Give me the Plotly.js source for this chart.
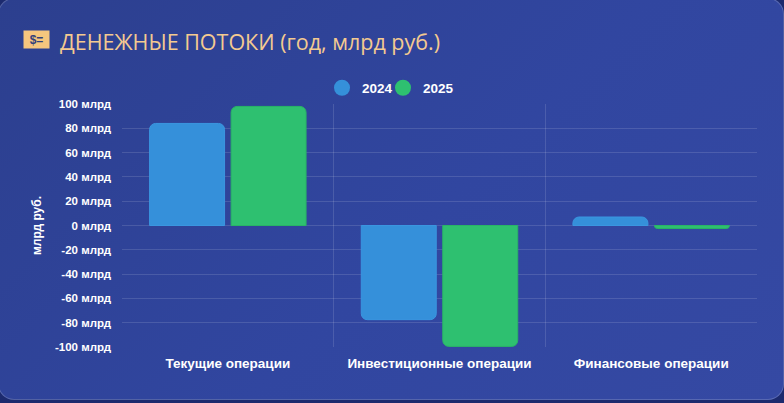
<!DOCTYPE html>
<html>
<head>
<meta charset="utf-8">
<script src="https://cdn.plot.ly/plotly-3.0.1.min.js"></script>
<style>
  html, body { margin: 0; padding: 0; background: #1c2a6e; overflow: hidden; }
  #card {
    position: absolute; left: -2px; top: -2px; width: 784px; height: 400px;
    border-radius: 16px; border: 1px solid rgba(255,255,255,0.18);
    background: linear-gradient(135deg, #2c3f8e 0%, #3146a0 55%, #3549a3 100%);
  }
  #chart { position: absolute; left: 0; top: 0; width: 784px; height: 403px; }
</style>
</head>
<body>
<div id="card"></div>
<div id="chart"></div>
<script>
'use strict';

var categories = ['Текущие операции', 'Инвестиционные операции', 'Финансовые операции'];
var flows2024 = [84, -77.5, 7];
var flows2025 = [98, -99.5, -2.5];
var yTicks = [-100, -80, -60, -40, -20, 0, 20, 40, 60, 80, 100];
var yTickText = yTicks.map(function (v) { return v + ' млрд'; });

var blue = '#3590da', green = '#2ec070';

var data = [
	{ x: categories, y: flows2024, type: 'bar', name: '2024', showlegend: false,
	  marker: { color: blue, cornerradius: 6, line: { color: '#3a96e0', width: 1 } } },
	{ x: categories, y: flows2025, type: 'bar', name: '2025', showlegend: false,
	  marker: { color: green, cornerradius: 6, line: { color: '#29b466', width: 1 } } },
	// legend only: round markers like the original
	{ x: [categories[0]], y: [null], type: 'scatter', mode: 'markers', name: '2024',
	  marker: { color: blue, size: 18, symbol: 'circle' } },
	{ x: [categories[0]], y: [null], type: 'scatter', mode: 'markers', name: '2025',
	  marker: { color: green, size: 18, symbol: 'circle' } },
	// empty spacer so the last legend label is not clipped
	{ x: [categories[0]], y: [null], type: 'scatter', mode: 'markers', name: ' ',
	  marker: { color: 'rgba(0,0,0,0)', size: 1 } }
];

var layout = {
	width: 784,
	height: 403,
	margin: { l: 122, r: 27, t: 104, b: 56 },
	paper_bgcolor: 'rgba(0,0,0,0)',
	plot_bgcolor: 'rgba(0,0,0,0)',
	font: { family: 'Liberation Sans, Arial, sans-serif', color: '#ffffff' },
	title: {
		text: 'ДЕНЕЖНЫЕ ПОТОКИ (год, млрд руб.)',
		xref: 'container', x: 60 / 784, xanchor: 'left',
		yref: 'container', y: 1 - 42 / 403, yanchor: 'middle',
		font: { family: 'Open Sans, sans-serif', size: 21.5, color: '#f4ca90' }
	},
	barmode: 'group',
	bargap: 0.23,
	bargroupgap: 0.08,
	showlegend: true,
	legend: {
		orientation: 'h', x: (343 - 21 - 122) / 635, xanchor: 'left', y: 1.066, yanchor: 'middle',
		font: { size: 13.5, color: '#ffffff', weight: 'bold' },
		itemwidth: 30, itemsizing: 'trace', traceorder: 'normal',
		entrywidth: 16
	},
	xaxis: {
		type: 'category',
		range: [-0.5, 2.5],
		tickson: 'boundaries',
		showgrid: true,
		gridcolor: 'rgba(255,255,255,0.13)',
		ticks: '',
		showline: false,
		zeroline: false,
		ticklabelstandoff: 6,
		tickfont: { size: 13.5, weight: 'bold', color: '#ffffff' }
	},
	yaxis: {
		range: [-100, 100],
		tickmode: 'array',
		tickvals: yTicks,
		ticktext: yTickText,
		showgrid: true,
		gridcolor: 'rgba(255,255,255,0.13)',
		zeroline: false,
		ticks: '',
		ticklabelstandoff: 10,
		tickfont: { size: 11.5, weight: 'bold', color: '#ffffff' },
		title: { text: 'млрд руб.', standoff: 10, font: { size: 12, weight: 'bold', color: '#ffffff' } }
	},
	annotations: [{
		text: '<b>$=</b>', showarrow: false,
		xref: 'paper', x: (36.5 - 122) / 635, xanchor: 'center',
		yref: 'paper', y: (347 - 39.5) / 243, yanchor: 'middle',
		width: 21, height: 13,
		bgcolor: '#f6c67e', borderpad: 2,
		font: { size: 12, color: '#33407a' }
	}]
};

Plotly.newPlot('chart', data, layout, { displayModeBar: false, staticPlot: true });
</script>
</body>
</html>
